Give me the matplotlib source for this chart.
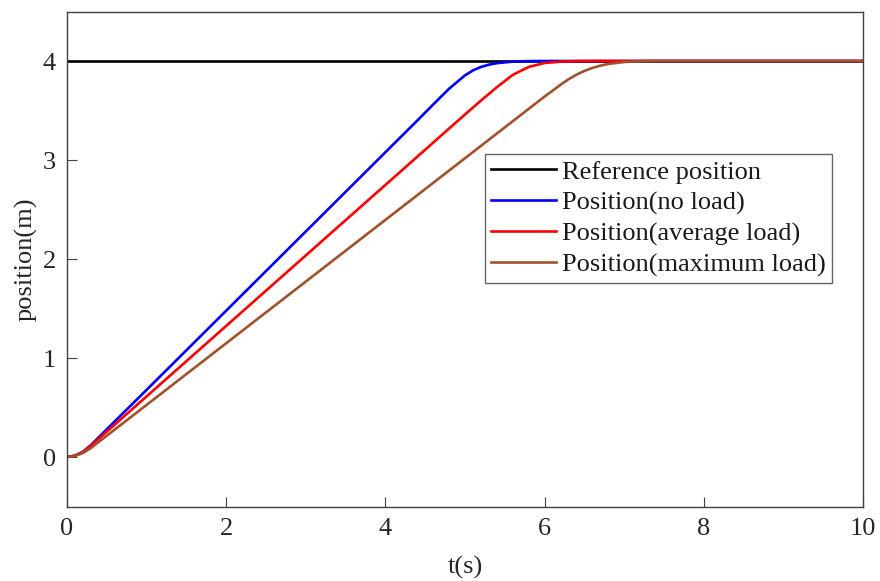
import matplotlib
matplotlib.use("Agg")
import matplotlib.pyplot as plt

# Time samples (s) and measured positions (m) for each load case
t_ref = [0, 10]
pos_ref = [4, 4]

t_noload = [0, 0.1, 0.2, 0.3, 0.4, 0.5, 1, 2, 3, 4, 4.4, 4.6, 4.8, 5.0,
            5.1, 5.2, 5.3, 5.4, 5.6, 5.8, 6.0, 10]
pos_noload = [0, 0.013, 0.053, 0.12, 0.2, 0.28, 0.678, 1.478, 2.278, 3.078,
              3.398, 3.56, 3.72, 3.855, 3.905, 3.94, 3.963, 3.978, 3.994,
              3.999, 4.0, 4.0]

t_avg = [0, 0.1, 0.2, 0.3, 0.4, 0.5, 1, 2, 3, 4, 5, 5.2, 5.4, 5.6, 5.8,
         6.0, 6.2, 6.4, 6.6, 10]
pos_avg = [0, 0.013, 0.05, 0.114, 0.185, 0.256, 0.612, 1.324, 2.036, 2.748,
           3.46, 3.60, 3.735, 3.86, 3.94, 3.98, 3.993, 3.999, 4.0, 4.0]

t_max = [0, 0.1, 0.2, 0.3, 0.4, 0.5, 1, 2, 3, 4, 5, 6, 6.1, 6.2, 6.3, 6.4,
         6.5, 6.6, 6.7, 6.8, 7.0, 7.2, 7.4, 10]
pos_max = [0, 0.01, 0.04, 0.09, 0.153, 0.215, 0.526, 1.149, 1.772, 2.395,
           3.018, 3.641, 3.70, 3.76, 3.815, 3.862, 3.90, 3.93, 3.953, 3.97,
           3.99, 3.998, 4.0, 4.0]

labels = ["Reference position", "Position(no load)",
          "Position(average load)", "Position(maximum load)"]
colors = ["#000000", "#0000ff", "#ff0000", "#a0522d"]

x_ticks = [0, 2, 4, 6, 8, 10]
y_ticks = [0, 1, 2, 3, 4]

plt.rcParams["font.family"] = ["Liberation Serif", "DejaVu Serif"]

fig = plt.figure(figsize=(8.8, 5.81), dpi=100)
ax = fig.add_axes([0.0761, 0.1282, 0.9046, 0.852])

series = [(t_ref, pos_ref), (t_noload, pos_noload),
          (t_avg, pos_avg), (t_max, pos_max)]
for (t, p), lab, c in zip(series, labels, colors):
    ax.plot(t, p, color=c, lw=1.9, label=lab)

ax.set_xlim(0, 10)
ax.set_ylim(-0.5, 4.5)
ax.set_xticks(x_ticks)
ax.set_yticks(y_ticks)

axis_color = "#404040"
text_color = "#262626"
for sp in ax.spines.values():
    sp.set_color(axis_color)
    sp.set_linewidth(1.0)
ax.tick_params(direction="in", length=7, width=0.8, colors=axis_color,
               labelcolor=text_color, labelsize=19, pad=8)

ax.set_xlabel("t(s)", fontsize=19, color=text_color, labelpad=12)
ax.set_ylabel("position(m)", fontsize=19, color=text_color, labelpad=4)

leg = ax.legend(loc="upper left", bbox_to_anchor=(0.5253, 0.7114),
                fontsize=19, frameon=True, fancybox=False, shadow=False,
                borderpad=0.22, labelspacing=0.27, handlelength=2.45,
                handletextpad=0.25, borderaxespad=0)
leg.get_frame().set_edgecolor(axis_color)
leg.get_frame().set_linewidth(1.0)
for txt in leg.get_texts():
    txt.set_color("#1a1a1a")

fig.savefig("out.png", dpi=100)
